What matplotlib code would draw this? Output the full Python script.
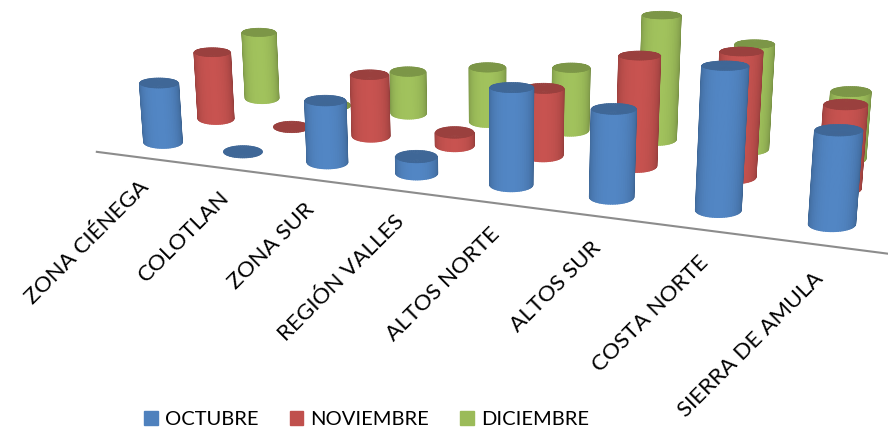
import numpy as np
import matplotlib
matplotlib.use("Agg")
import matplotlib.pyplot as plt
from matplotlib.patches import Patch
from matplotlib.colors import to_rgb

plt.rcParams['font.family'] = ['Lato', 'DejaVu Sans']

categories = ["ZONA CIÉNEGA", "COLOTLAN", "ZONA SUR", "REGIÓN VALLES",
              "ALTOS NORTE", "ALTOS SUR", "COSTA NORTE", "SIERRA DE AMULA"]
series_names = ["OCTUBRE", "NOVIEMBRE", "DICIEMBRE"]
octubre = [60, 0, 59.5, 15.7, 88.4, 78.1, 123, 78.4]
noviembre = [72, 0, 63.5, 13.2, 66, 105, 116, 76.4]
diciembre = [76, 0, 46.4, 58.7, 66, 126.6, 104.6, 66]
colors = ["#4F81BD", "#C0504D", "#9BBB59"]

W, H = 888, 432

# camera: (category, series, value, 1) -> screen pixels, y pointing down
CAMERA = np.array([
    [73.52, 69.2, -0.098, 163.0],
    [5.77, -14.64, -1.0, 142.0],
    [0.0, 1.0, 0.0, 0.0],
    [-0.0265, 0.0751, -0.0002, 1.0],
])
FLOOR = CAMERA[[0, 1, 3]][:, [0, 1, 3]]
FLOOR_INV = np.linalg.inv(FLOOR)

fig = plt.figure(figsize=(W / 100, H / 100), dpi=100)
# mplot3d forces a square box, so make it square and let it hang off the figure
ax = fig.add_axes([0, (H - W) / 2 / H, 1, W / H], projection='3d', computed_zorder=False)
ax.set_axis_off()


def get_proj():
    vl = ax.viewLim
    to_view = np.array([
        [vl.width / W, 0, 0, vl.x0],
        [0, -vl.height / W, 0, vl.y0 + vl.height * (H + (W - H) / 2) / W],
        [0, 0, 1, 0],
        [0, 0, 0, 1],
    ])
    return to_view @ CAMERA


ax.get_proj = get_proj


def screen(x, y, z):
    p = CAMERA @ np.array([x, y, z, 1.0])
    return p[0] / p[3], p[1] / p[3]


def floor_ring(i, j, rx, ry, t):
    # ring that looks like a level ellipse on screen, back on the floor plane
    c = FLOOR @ np.array([i, j, 1.0])
    w = c[2]
    sx = c[0] / w + rx / w * np.cos(t)
    sy = c[1] / w + ry / w * np.sin(t)
    p = FLOOR_INV @ np.vstack([sx, sy, np.ones_like(t)])
    return p[0] / p[2], p[1] / p[2]


def cylinder(i, j, value, color, zorder):
    base = np.array(to_rgb(color))
    rx, ry = 19.0, 6.0
    if value > 0:
        t = np.linspace(0, np.pi, 30)
        x, y = floor_ring(i, j, rx, ry, t)
        X = np.vstack([x, x])
        Y = np.vstack([y, y])
        Z = np.vstack([np.zeros_like(x), np.full_like(x, value)])
        # darker towards both edges
        shade = 0.74 + 0.30 * np.sin(t) ** 0.8
        rgb = np.clip(base[None, :] * shade[:, None], 0, 1)
        fc = np.dstack([np.stack([rgb[:, k]] * 2) for k in range(3)] + [np.ones_like(X)])
        ax.plot_surface(X, Y, Z, facecolors=fc, rstride=1, cstride=1, shade=False,
                        linewidth=1.2, zorder=zorder)
    # lid
    t = np.linspace(0, 2 * np.pi, 60)
    x, y = floor_ring(i, j, rx, ry, t)
    X = np.vstack([np.full_like(x, float(i)), x])
    Y = np.vstack([np.full_like(y, float(j)), y])
    Z = np.full_like(X, value)
    top = np.clip(base * 0.8, 0, 1)
    ax.plot_surface(X, Y, Z, color=top, rstride=1, cstride=1, shade=False,
                    linewidth=0.5, edgecolor=top, zorder=zorder + 0.5)


# floor outline
x0, x1, y0, y1 = -0.43, 7.6, -0.54, 2.32
ax.plot([x1, x0, x0, x1], [y0, y0, y1, y1], [0, 0, 0, 0], color="#8C8C8C", lw=1.5, zorder=1)

all_series = [octubre, noviembre, diciembre]
for j in [2, 1, 0]:
    for i, v in enumerate(all_series[j]):
        cylinder(i, j, v, colors[j], zorder=10 + (2 - j) * 10 + i * 0.1)

for i, label in enumerate(categories):
    sx, sy = screen(i * 1.02 - 0.27, -0.1, -36)
    fig.text(sx / W, 1 - sy / H, label, rotation=45, ha='right', va='top',
             rotation_mode='anchor', fontsize=16.2, color='black')

handles = [Patch(color=c, label=n) for c, n in zip(colors, series_names)]
fig.legend(handles=handles, loc='lower left', bbox_to_anchor=(128 / W, -12 / H), ncol=3, frameon=False,
           fontsize=14.5, handlelength=0.68, handleheight=0.68, handletextpad=0.35, columnspacing=1.55,
           borderpad=0.3)

fig.savefig("out.png", dpi=100)
